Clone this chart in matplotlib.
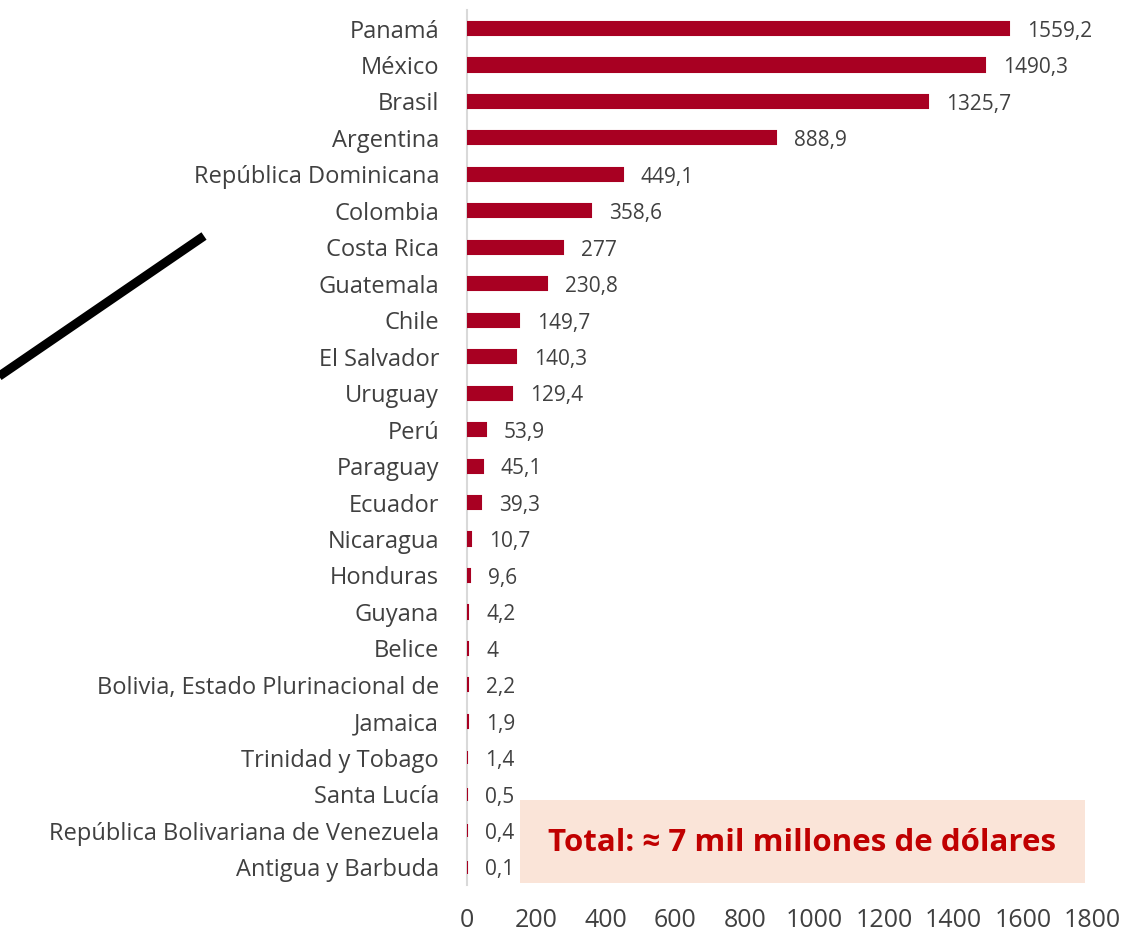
import matplotlib.pyplot as plt
from matplotlib.lines import Line2D
from matplotlib.patches import Rectangle

plt.rcParams['font.family'] = ['Open Sans', 'DejaVu Sans']

# ── Data ───────────────────────────────────────────────────
countries = [
    "Panamá", "México", "Brasil", "Argentina", "República Dominicana",
    "Colombia", "Costa Rica", "Guatemala", "Chile", "El Salvador",
    "Uruguay", "Perú", "Paraguay", "Ecuador", "Nicaragua", "Honduras",
    "Guyana", "Belice", "Bolivia, Estado Plurinacional de", "Jamaica",
    "Trinidad y Tobago", "Santa Lucía", "República Bolivariana de Venezuela",
    "Antigua y Barbuda",
]
values = [1559.2, 1490.3, 1325.7, 888.9, 449.1, 358.6, 277, 230.8, 149.7,
          140.3, 129.4, 53.9, 45.1, 39.3, 10.7, 9.6, 4.2, 4, 2.2, 1.9,
          1.4, 0.5, 0.4, 0.1]
x_ticks = [0, 200, 400, 600, 800, 1000, 1200, 1400, 1600, 1800]
total_text = "Total: ≈ 7 mil millones de dólares"

BAR_COLOR = "#A80022"
TEXT_COLOR = "#404040"

fig = plt.figure(figsize=(11.25, 9.35), dpi=100, facecolor="white")
ax = fig.add_axes([0.415, 0.053, 0.556, 0.936])

pos = list(range(len(countries)))
# thin edge keeps the near-zero bars visible as small ticks, like Excel does
ax.barh(pos, values, height=0.36, color=BAR_COLOR,
        edgecolor=BAR_COLOR, linewidth=1.5, zorder=3)

for p, v in zip(pos, values):
    lbl = f"{v:g}".replace(".", ",")
    ax.annotate(lbl, (v, p), xytext=(13, -2), textcoords="offset points",
                va="center", ha="left", fontsize=15, color=TEXT_COLOR)

ax.set_yticks(pos)
ax.set_yticklabels(countries, fontsize=17, color=TEXT_COLOR)
ax.set_ylim(len(countries) - 0.5, -0.5)
ax.set_xlim(0, 1800)
ax.set_xticks(x_ticks)
ax.set_xticklabels([str(t) for t in x_ticks], fontsize=18, color=TEXT_COLOR)
ax.tick_params(axis="x", length=0, pad=16)
ax.tick_params(axis="y", length=0, pad=20)

for s in ["top", "right", "bottom"]:
    ax.spines[s].set_visible(False)
ax.spines["left"].set_color("#D9D9D9")
ax.spines["left"].set_linewidth(1.5)

# ── Total box ──────────────────────────────────────────────
box = Rectangle((520 / 1125, 1 - 883 / 935), 565 / 1125, 83 / 935,
                transform=fig.transFigure, facecolor="#FAE4D8",
                edgecolor="none", zorder=1)
fig.patches.append(box)
fig.text(802 / 1125, 1 - 843 / 935, total_text, ha="center", va="center",
         fontsize=22.5, fontweight="bold", color="#C00000")

# ── Black diagonal stroke on the left ──────────────────────
fig.add_artist(Line2D([-5 / 1125, 204 / 1125],
                      [1 - 379 / 935, 1 - 236 / 935],
                      transform=fig.transFigure, color="black",
                      linewidth=6.5, solid_capstyle="butt"))

fig.savefig("out.png", dpi=100, facecolor="white")
